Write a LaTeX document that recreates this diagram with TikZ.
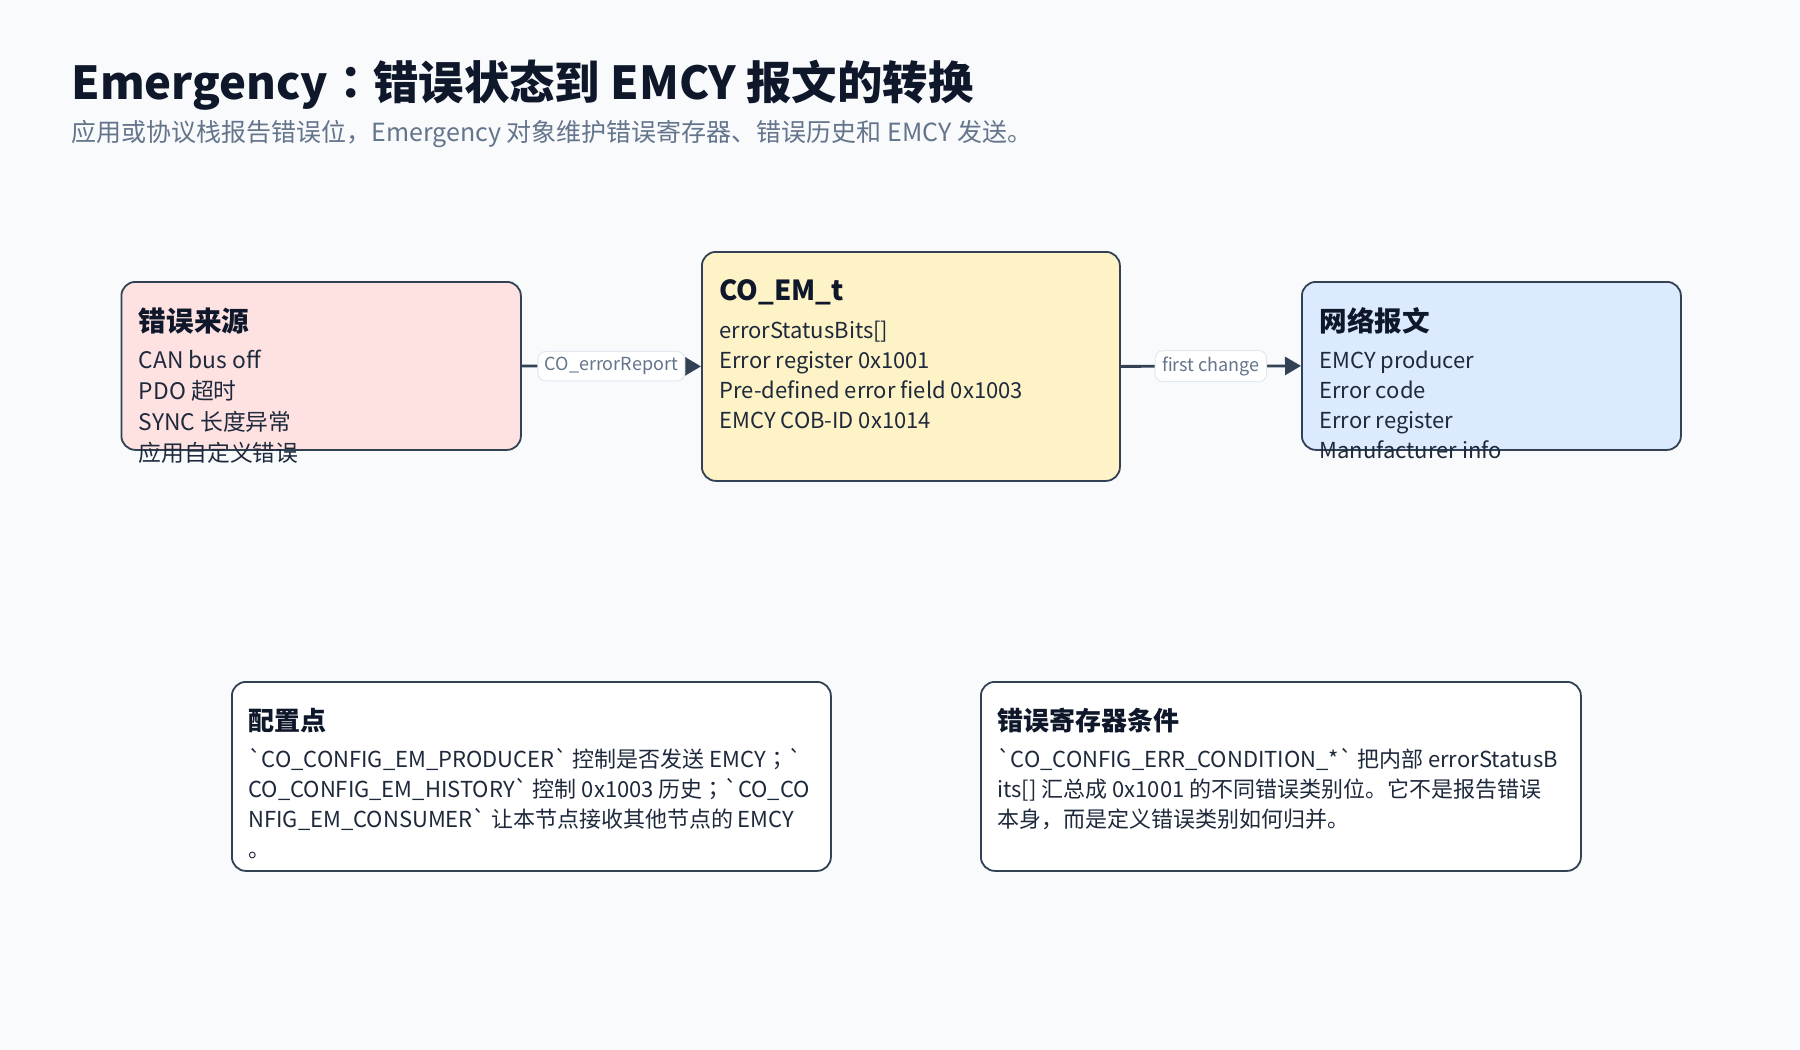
\documentclass[tikz,border=0pt]{standalone}
\usepackage{fontspec}
\setmainfont{Noto Sans CJK SC}
\newfontfamily\jpfont{Noto Sans CJK JP}
\usepackage{tikz}
\usetikzlibrary{calc, arrows.meta, positioning}

\definecolor{bgpage}{HTML}{F8FAFC}
\definecolor{ink}{HTML}{0F172A}
\definecolor{bodyink}{HTML}{1E293B}
\definecolor{muted}{HTML}{64748B}
\definecolor{edge}{HTML}{334155}
\definecolor{srcfill}{HTML}{FEE2E2}
\definecolor{emfill}{HTML}{FEF3C7}
\definecolor{netfill}{HTML}{DBEAFE}
\definecolor{tagline}{HTML}{E2E8F0}
\newcommand{\bq}{\textasciigrave}
\newcommand{\semi}{{\jpfont ；}}

\begin{document}
\begin{tikzpicture}[x=0.5pt, y=-0.5pt,
    box/.style={draw=edge, line width=0.9pt, rounded corners=7pt, anchor=north west, inner sep=0pt},
    head/.style={anchor=base west, inner sep=0pt, text=ink, font=\fontsize{13.8}{16}\selectfont\bfseries},
    bodytxt/.style={anchor=base west, inner sep=0pt, text=bodyink, font=\fontsize{11}{15}\selectfont},
    tag/.style={fill=white, draw=tagline, line width=0.5pt, rounded corners=4pt, text=muted,
        font=\fontsize{9}{11}\selectfont, inner xsep=3.5pt, inner ysep=3pt},
    flow/.style={draw=edge, line width=1.4pt, -{Triangle[length=8pt, width=9pt]}}]
    \fill[bgpage] (0,0) rectangle (1800,1050);
    \useasboundingbox (0,0) rectangle (1800,1050);

    % 1. 标题
    \node[anchor=base west, inner sep=0pt, text=ink, font=\fontsize{22.7}{27}\selectfont\bfseries]
        (title) at (71,99) {Emergency{\jpfont ：}错误状态到 EMCY 报文的转换};
    \node[anchor=base west, inner sep=0pt, text=muted, font=\fontsize{12.5}{15}\selectfont]
        (subtitle) at (71,141) {应用或协议栈报告错误位，Emergency 对象维护错误寄存器、错误历史和 EMCY 发送。};

    % 2. 错误来源
    \node[box, fill=srcfill, minimum width=199.75pt, minimum height=84pt] (src) at (120.5,281) {};
    \node[head] (src-h) at ($(src.north west)+(18,50)$) {错误来源};
    \foreach \t [count=\i from 0] in {CAN bus off, PDO 超时, SYNC 长度异常, 应用自定义错误}
        \node[bodytxt, font=\fontsize{11.4}{15}\selectfont] (src-\i) at ($(src.north west)+(18,87+31.3*\i)$) {\t};

    % 3. CO_EM_t
    \node[box, fill=emfill, minimum width=209pt, minimum height=114.5pt] (emt) at (701,251) {};
    \node[head] (emt-h) at ($(emt.north west)+(18,49)$) {CO\_EM\_t};
    \foreach \t [count=\i from 0] in {errorStatusBits[], Error register 0x1001,
        Pre-defined error field 0x1003, EMCY COB-ID 0x1014}
        \node[bodytxt] (emt-\i) at ($(emt.north west)+(18,87+30*\i)$) {\t};

    % 4. 网络报文
    \node[box, fill=netfill, minimum width=189.5pt, minimum height=84pt] (net) at (1301,281) {};
    \node[head] (net-h) at ($(net.north west)+(18,50)$) {网络报文};
    \foreach \t [count=\i from 0] in {EMCY producer, Error code, Error register, Manufacturer info}
        \node[bodytxt] (net-\i) at ($(net.north west)+(18,87+30*\i)$) {\t};

    % 5. 连线
    \draw[flow] (src.east) -- node[tag] (tag-report) {CO\_errorReport} (emt.west);
    \draw[flow] (emt.east) -- node[tag] (tag-change) {first change} (net.west);

    % 6. 配置点
    \node[box, fill=white, minimum width=299.5pt, minimum height=94.5pt] (cfg) at (231,681) {};
    \node[head, font=\fontsize{13}{16}\selectfont\bfseries] (cfg-h) at ($(cfg.north west)+(17,49)$) {配置点};
    \foreach \t [count=\i from 0] in {{\bq CO\_CONFIG\_EM\_PRODUCER\bq\ 控制是否发送 EMCY\semi\bq},
        {CO\_CONFIG\_EM\_HISTORY\bq\ 控制 0x1003 历史\semi\bq CO\_CO},
        {NFIG\_EM\_CONSUMER\bq\ 让本节点接收其他节点的 EMCY}, {。}}
        \node[bodytxt] (cfg-\i) at ($(cfg.north west)+(17,86+30*\i)$) {\t};

    % 7. 错误寄存器条件
    \node[box, fill=white, minimum width=300pt, minimum height=94.5pt] (cond) at (980,681) {};
    \node[head, font=\fontsize{13}{16}\selectfont\bfseries] (cond-h) at ($(cond.north west)+(17,49)$) {错误寄存器条件};
    \foreach \t [count=\i from 0] in {{\bq CO\_CONFIG\_ERR\_CONDITION\_*\bq\ 把内部 errorStatusB},
        {its[] 汇总成 0x1001 的不同错误类别位。它不是报告错误},
        {本身，而是定义错误类别如何归并。}}
        \node[bodytxt] (cond-\i) at ($(cond.north west)+(17,86+30*\i)$) {\t};
\end{tikzpicture}
\end{document}
